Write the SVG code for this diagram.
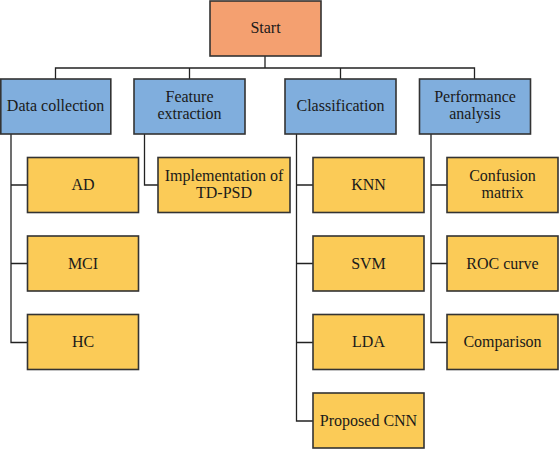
<svg xmlns="http://www.w3.org/2000/svg" width="559" height="449" viewBox="0 0 559 449">
<style>
.box{stroke:#333;stroke-width:1.6}
.start{fill:#F4A070}
.cat{fill:#80AEDD}
.item{fill:#FBCB57}
text{font-family:'Liberation Serif','Times New Roman','DejaVu Serif',serif;font-size:16px;fill:#1a1a1a;text-anchor:middle}
.conn{fill:none;stroke:#222;stroke-width:1.3}
</style>
<rect width="559" height="449" fill="#fff"/>
<g id="connectors">
<path class="conn" d="M265,56 V68 M55.5,79 V68 H474.5 V79 M189.5,68 V79 M340.5,68 V79"/>
<path class="conn" d="M11,134 V342.5 H27.5 M11,185 H27.5 M11,263.5 H27.5"/>
<path class="conn" d="M144.5,134 V185 H158"/>
<path class="conn" d="M296.5,134 V421 H313 M296.5,185 H313 M296.5,263.5 H313 M296.5,342.5 H313"/>
<path class="conn" d="M431,134 V342.5 H447 M431,185 H447 M431,263.5 H447"/>
</g>
<g id="start"><rect class="box start" x="210" y="1" width="111" height="55"/><text x="265.5" y="33" font-family="Liberation Serif, serif">Start</text></g>
<g id="data-collection"><rect class="box cat" x="0.8" y="79" width="110" height="55"/><text x="55.5" y="111">Data collection</text></g>
<g id="feature-extraction"><rect class="box cat" x="134" y="79" width="111" height="55"/><text x="189.5" y="102">Feature</text><text x="189.5" y="119">extraction</text></g>
<g id="classification"><rect class="box cat" x="285" y="79" width="111" height="55"/><text x="340.5" y="111">Classification</text></g>
<g id="performance-analysis"><rect class="box cat" x="419.5" y="79" width="111" height="55"/><text x="475" y="102">Performance</text><text x="475" y="119">analysis</text></g>
<g id="ad"><rect class="box item" x="27.5" y="157.5" width="111" height="55"/><text x="83" y="190">AD</text></g>
<g id="mci"><rect class="box item" x="27.5" y="236" width="111" height="55"/><text x="83" y="268.5">MCI</text></g>
<g id="hc"><rect class="box item" x="27.5" y="314.5" width="111" height="55"/><text x="83" y="347">HC</text></g>
<g id="td-psd"><rect class="box item" x="158" y="157.5" width="132" height="55"/><text x="224" y="181">Implementation of</text><text x="224" y="198">TD-PSD</text></g>
<g id="knn"><rect class="box item" x="313" y="157.5" width="111" height="55"/><text x="368.5" y="190">KNN</text></g>
<g id="svm"><rect class="box item" x="313" y="236" width="111" height="55"/><text x="368.5" y="268.5">SVM</text></g>
<g id="lda"><rect class="box item" x="313" y="314.5" width="111" height="55"/><text x="368.5" y="347">LDA</text></g>
<g id="proposed-cnn"><rect class="box item" x="313" y="393" width="111" height="55"/><text x="368.5" y="426">Proposed CNN</text></g>
<g id="confusion-matrix"><rect class="box item" x="447" y="157.5" width="111" height="55"/><text x="502.5" y="181">Confusion</text><text x="502.5" y="198">matrix</text></g>
<g id="roc-curve"><rect class="box item" x="447" y="236" width="111" height="55"/><text x="502.5" y="268.5">ROC curve</text></g>
<g id="comparison"><rect class="box item" x="447" y="314.5" width="111" height="55"/><text x="502.5" y="347">Comparison</text></g>
</svg>
